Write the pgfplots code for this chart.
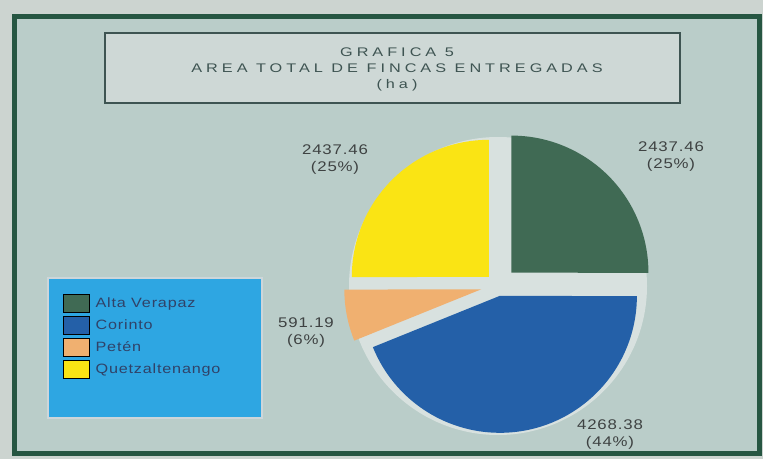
\documentclass[border=0pt]{standalone}
\usepackage{pgfplots}
\usepackage{pgfplotstable}
\pgfplotsset{compat=1.18}
\usepackage{fontspec}
\setmainfont{Liberation Sans}
\newfontfamily\titlefont[FakeStretch=1.3, LetterSpace=32]{Liberation Sans}
\newfontfamily\labfont[FakeStretch=1.2, LetterSpace=6]{Liberation Sans}

\definecolor{outerbg}{RGB}{204,212,208}
\definecolor{innerbg}{RGB}{186,205,201}
\definecolor{framegreen}{RGB}{38,86,66}
\definecolor{titlebg}{RGB}{206,216,214}
\definecolor{titleline}{RGB}{62,84,82}
\definecolor{halo}{RGB}{216,225,223}
\definecolor{legbg}{RGB}{46,166,226}
\definecolor{legline}{RGB}{205,214,218}
\definecolor{legtext}{RGB}{48,66,104}
\definecolor{labtext}{RGB}{62,66,66}
\definecolor{cgreen}{RGB}{64,106,84}
\definecolor{cblue}{RGB}{36,96,168}
\definecolor{corange}{RGB}{240,176,112}
\definecolor{cyellow}{RGB}{250,228,20}

% area in ha, colour, explode distance, label position (pt from lower left)
\pgfplotstableread{
name value color ex lx ly
{Alta Verapaz} 2437.46 cgreen 19 671 302
Corinto 4268.38 cblue 10 610 24
Petén 591.19 corange 17 306 126
Quetzaltenango 2437.46 cyellow 13 335 299
}\piedata

\begin{document}
\begin{tikzpicture}
\begin{axis}[
    x=1pt, y=1pt,
    xmin=0, xmax=763, ymin=0, ymax=459,
    hide axis,
    clip=false,
    legend image code/.code={\fill[#1] (0pt,-9pt) rectangle (26pt,9pt);},
    legend style={at={(axis cs:60,167)}, anchor=north west, draw=none, fill=none,
        row sep=3.5pt, font=\labfont\fontsize{13.5}{15}\selectfont\color{legtext},
        nodes={inner xsep=6pt}},
    legend cell align=left,
]
% frame, title box and legend box
\fill[outerbg] (axis cs:0,0) rectangle (axis cs:763,459);
\draw[framegreen, line width=5pt, fill=innerbg] (axis cs:14,6) rectangle (axis cs:759,442);
\draw[titleline, line width=1.6pt, fill=titlebg] (axis cs:105,356) rectangle (axis cs:680,426);
\node[align=center, text=titleline, font=\titlefont\fontsize{12.5}{16}\selectfont]
    at (axis cs:397,390) {GRAFICA 5\\AREA TOTAL DE FINCAS ENTREGADAS\\(ha)};
\draw[legline, line width=2pt, fill=legbg] (axis cs:48,41) rectangle (axis cs:262,181);
\fill[halo] (axis cs:498,173) circle[radius=149pt];

\addlegendimage{fill=cgreen}
\addlegendentry{Alta Verapaz}
\addlegendimage{fill=cblue}
\addlegendentry{Corinto}
\addlegendimage{fill=corange}
\addlegendentry{Petén}
\addlegendimage{fill=cyellow}
\addlegendentry{Quetzaltenango}

\pgfplotsextra{
  \def\total{0}
  \pgfplotsforeachungrouped \i in {0,...,3}{
    \pgfplotstablegetelem{\i}{value}\of\piedata
    \pgfmathsetmacro\total{\total+\pgfplotsretval}
  }
  \def\start{90}
  \pgfplotsforeachungrouped \i in {0,...,3}{
    \pgfplotstablegetelem{\i}{value}\of\piedata \let\val\pgfplotsretval
    \pgfplotstablegetelem{\i}{color}\of\piedata \let\col\pgfplotsretval
    \pgfplotstablegetelem{\i}{ex}\of\piedata \let\ex\pgfplotsretval
    \pgfplotstablegetelem{\i}{lx}\of\piedata \let\lx\pgfplotsretval
    \pgfplotstablegetelem{\i}{ly}\of\piedata \let\ly\pgfplotsretval
    \pgfmathsetmacro\frac{\val/\total}
    \pgfmathsetmacro\stop{\start-360*\frac}
    \pgfmathsetmacro\mid{(\start+\stop)/2}
    \pgfmathsetmacro\vx{498+\ex*cos(\mid)}
    \pgfmathsetmacro\vy{173+\ex*sin(\mid)}
    \pgfmathtruncatemacro\pct{round(100*\frac)}
    \fill[\col] (axis cs:\vx,\vy) -- ++(\start:137pt)
        arc[start angle=\start, end angle=\stop, radius=137pt] -- cycle;
    \node[align=center, text=labtext, font=\labfont\fontsize{14}{17}\selectfont]
        at (axis cs:\lx,\ly) {\val\\(\pct\%)};
    \let\start\stop
  }
}
\end{axis}
\end{tikzpicture}
\end{document}
